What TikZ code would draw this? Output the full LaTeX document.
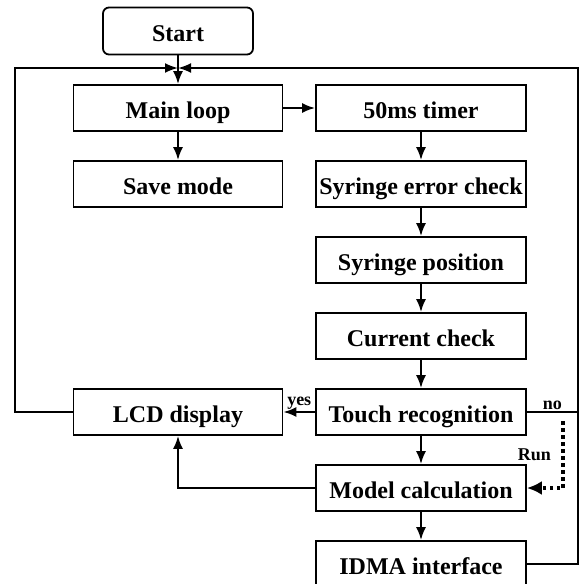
\documentclass[tikz,border=0pt]{standalone}
\usepackage{fontspec}
\setmainfont{Liberation Serif}
\usetikzlibrary{positioning, arrows.meta}

\begin{document}
\begin{tikzpicture}[x=1pt, y=1pt, node distance=76pt, on grid,
   box/.style={draw, line width=1.8pt, minimum width=209pt, minimum height=46pt,
      inner sep=1pt, text height=22pt, text depth=2pt,
      font=\fontsize{24}{26}\selectfont\bfseries},
   lbl/.style={font=\fontsize{18}{20}\selectfont\bfseries},
   line width=2pt, >={Latex[length=13pt,width=10pt]}]
   \useasboundingbox (0,0) rectangle (581,-584);
   % 定义节点
   \node[box] (main) at (178,-108) {Main loop};
   \node[box, rounded corners=6pt, minimum width=150pt, minimum height=47pt] (start) [above=77pt of main] {Start};
   \node[box] (save) [below=of main] {Save mode};
   \node[box, minimum width=210pt] (timer) [right=243pt of main] {50ms timer};
   \node[box, minimum width=210pt] (err) [below=of timer] {Syringe error check};
   \node[box, minimum width=210pt] (pos) [below=of err] {Syringe position};
   \node[box, minimum width=210pt] (cur) [below=of pos] {Current check};
   \node[box, minimum width=210pt] (touch) [below=of cur] {Touch recognition};
   \node[box, minimum width=210pt] (model) [below=of touch] {Model calculation};
   \node[box, minimum width=210pt] (idma) [below=of model] {IDMA interface};
   \node[box] (lcd) [left=243pt of touch] {LCD display};

   % 回路的拐点
   \coordinate (join) at (178,-68);
   \coordinate (cl) at (15,-68);
   \coordinate (cr) at (578,-68);
   \coordinate (runtop) at (563,-421);

   % 绘制箭头
   \draw[->] (start) -- (main);
   \draw[->] (main) -- (timer);
   \draw[->] (main) -- (save);
   \draw[->] (timer) -- (err);
   \draw[->] (err) -- (pos);
   \draw[->] (pos) -- (cur);
   \draw[->] (cur) -- (touch);
   \draw[->] (touch) -- (model);
   \draw[->] (model) -- (idma);
   \draw[->] (touch) -- node[lbl, above, yshift=-2pt] {yes} (lcd);
   \draw (touch.east) -- node[lbl, above, yshift=-2pt] {no} (touch.east -| cr);
   \draw[->] (model.west) -| (lcd.south);
   \draw[->] (lcd.west) -| (cl) -- (join);
   \draw[->] (idma.east) -| (cr) -- (join);
   \draw[-{Latex[length=15pt,width=14pt]}, line width=3.5pt, dash pattern=on 3.5pt off 3.5pt]
      (runtop) |- node[lbl, left=7pt, pos=0.25] {Run} (model.east);
\end{tikzpicture}
\end{document}
